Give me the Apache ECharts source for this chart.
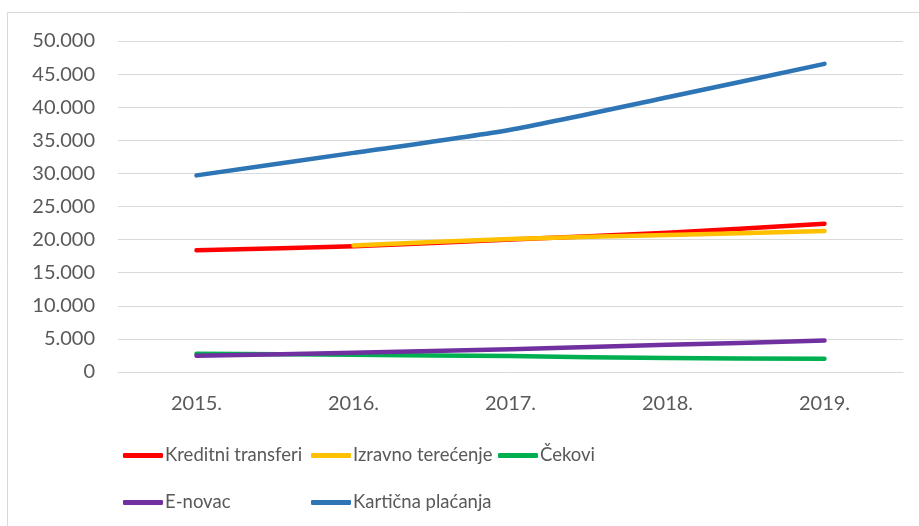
<!DOCTYPE html>
<html>
<head>
<meta charset="utf-8">
<script src="https://cdn.jsdelivr.net/npm/echarts@6/dist/echarts.min.js"></script>
<style>
html,body{margin:0;padding:0;background:#fff;}
#chart{width:919px;height:526px;}
</style>
</head>
<body>
<div id="chart"></div>
<script>
var years = ['2015.', '2016.', '2017.', '2018.', '2019.'];
var kreditni = [18400, 19000, 20000, 21050, 22400];
var izravno = [null, 19100, 20100, 20700, 21300];
var cekovi = [2750, 2600, 2400, 2100, 2000];
var enovac = [2450, 2900, 3450, 4100, 4750];
var karticna = [29700, 33100, 36600, 41500, 46550];
var yTicks = { min: 0, max: 50000, step: 5000 };

var FONT = 'Lato';
var GREY = '#595959';

function fmt(v){
    return String(v).replace(/\B(?=(\d{3})+(?!\d))/g, '.');
}

function line(name, data, color){
    return {
        name: name,
        type: 'line',
        data: data,
        smooth: 0.25,
        symbol: 'none',
        connectNulls: false,
        lineStyle: { color: color, width: 4.5, cap: 'round', join: 'round' },
        itemStyle: { color: color }
    };
}

// one legend per item so they sit in Excel-like columns
function legendAt(name, left, top){
    return {
        left: left,
        top: top,
        data: [name],
        itemWidth: 40,
        itemHeight: 5,
        icon: 'roundRect',
        textStyle: { fontFamily: FONT, fontSize: 18.5, color: GREY, padding: [0, 0, 0, -3] }
    };
}

var option = {
    animation: false,
    backgroundColor: '#fff',
    graphic: [{
        type: 'rect',
        shape: { x: 7.5, y: 12.5, width: 930, height: 530 },
        style: { fill: null, stroke: '#d9d9d9', lineWidth: 1 }
    }],
    grid: { left: 118, right: 16, top: 41, bottom: 154 },
    legend: [
        legendAt('Kreditni transferi', 118, 441),
        legendAt('Izravno terećenje', 306, 441),
        legendAt('Čekovi', 493, 441),
        legendAt('E-novac', 118, 488),
        legendAt('Kartična plaćanja', 306, 488)
    ],
    xAxis: {
        type: 'category',
        data: years,
        boundaryGap: true,
        axisLine: { lineStyle: { color: '#d9d9d9', width: 1 } },
        axisTick: { show: false },
        axisLabel: { fontFamily: FONT, fontSize: 20, color: GREY, margin: 22 }
    },
    yAxis: {
        type: 'value',
        min: yTicks.min,
        max: yTicks.max,
        interval: yTicks.step,
        axisLine: { show: false },
        axisTick: { show: false },
        splitLine: { lineStyle: { color: '#d9d9d9', width: 1 } },
        axisLabel: { fontFamily: FONT, fontSize: 20, color: GREY, margin: 23, formatter: fmt }
    },
    series: [
        line('Kreditni transferi', kreditni, '#FF0000'),
        line('Izravno terećenje', izravno, '#FFC000'),
        line('Čekovi', cekovi, '#00B050'),
        line('E-novac', enovac, '#7030A0'),
        line('Kartična plaćanja', karticna, '#2E75B6')
    ]
};

var chart = echarts.init(document.getElementById('chart'));
chart.setOption(option);
</script>
</body>
</html>
